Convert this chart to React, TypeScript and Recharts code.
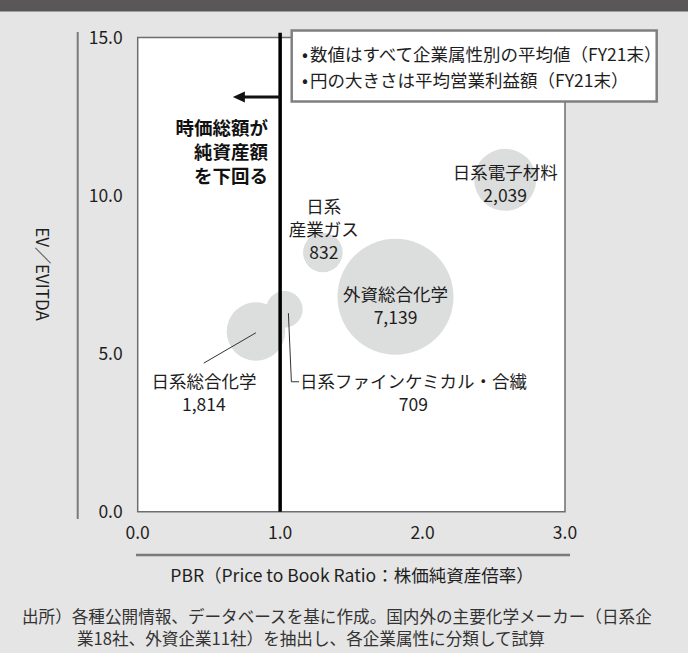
import { ScatterChart, Scatter, XAxis, YAxis, ZAxis, ReferenceLine, ReferenceArea } from 'recharts';

const FONT = '"Noto Sans CJK JP", "Noto Sans", sans-serif';

// 企業属性
const groups = ['日系電子材料', '日系産業ガス', '外資総合化学', '日系総合化学', '日系ファインケミカル・合繊'];
// ラベル表示用（改行あり）
const groupLabels = [['日系電子材料'], ['日系', '産業ガス'], ['外資総合化学'], ['日系総合化学'], ['日系ファインケミカル・合繊']];
const pbr = [2.58, 1.3, 1.81, 0.83, 1.03];
const evEbitda = [10.5, 8.2, 6.8, 5.7, 6.4];
const operatingProfit = [2039, 832, 7139, 1814, 709];

const xTicks = [0, 1, 2, 3];
const yTicks = [0, 5, 10, 15];

const data = groups.map((name, i) => ({
  name,
  lines: groupLabels[i],
  pbr: pbr[i],
  ev: evEbitda[i],
  profit: operatingProfit[i],
}));

// label placement relative to bubble centre (px)
const labelPos: Record<string, { dx: number; dy: number; lh: number }> = {
  日系電子材料: { dx: 0, dy: -8, lh: 23 },
  日系産業ガス: { dx: 1, dy: -46.5, lh: 23 },
  外資総合化学: { dx: 0, dy: -3.5, lh: 23 },
  日系総合化学: { dx: -52, dy: 49, lh: 23 },
  '日系ファインケミカル・合繊': { dx: 129, dy: 71, lh: 23 },
};

const Bubble = (props: any) => {
  const { cx, cy, width, payload } = props;
  const pos = labelPos[payload.name];
  const lines = [...payload.lines, payload.profit.toLocaleString('en-US')];
  return (
    <g>
      <circle cx={cx} cy={cy} r={width / 2} fill="#dcdddd" />
      {lines.map((t: string, i: number) => (
        <text
          key={i}
          x={cx + pos.dx}
          y={cy + pos.dy + i * pos.lh}
          textAnchor="middle"
          dominantBaseline="central"
          fontSize={17.5}
          fill="#1e1e1e"
          fontFamily={FONT}
        >
          {t}
        </text>
      ))}
    </g>
  );
};

const Arrow = (props: any) => {
  const { x1, y1, x2 } = props;
  const tip = Math.min(x1, x2);
  const tail = Math.max(x1, x2);
  return (
    <g>
      <line x1={tail} y1={y1} x2={tip + 10} y2={y1} stroke="#111" strokeWidth={3} />
      <polygon points={`${tip},${y1} ${tip + 12},${y1 - 5.5} ${tip + 12},${y1 + 5.5}`} fill="#111" />
    </g>
  );
};

export default function App() {
  return (
    <div style={{ position: 'absolute', left: 0, top: 0, width: 688, height: 653, background: '#e5e5e5', fontFamily: FONT }}>
      <ScatterChart width={688} height={653} margin={{ top: 37.5, right: 123, bottom: 111.3, left: 77.7 }}>
        <ReferenceArea x1={0} x2={3} y1={0} y2={15} fill="#fff" fillOpacity={1} stroke="#6e6e6e" strokeWidth={1.5} zIndex={-50} />
        <XAxis
          type="number"
          dataKey="pbr"
          domain={[0, 3]}
          ticks={xTicks}
          tickFormatter={(v: number) => v.toFixed(1)}
          axisLine={false}
          tickLine={false}
          tickSize={0}
          tickMargin={15}
          height={30}
          tick={{ fontSize: 17.5, fill: '#1e1e1e', fontFamily: FONT }}
        />
        <YAxis
          type="number"
          dataKey="ev"
          domain={[0, 15]}
          ticks={yTicks}
          tickFormatter={(v: number) => v.toFixed(1)}
          axisLine={false}
          tickLine={false}
          tickSize={0}
          tickMargin={15}
          width={60}
          tick={{ fontSize: 17.5, fill: '#1e1e1e', fontFamily: FONT }}
        />
        <ZAxis type="number" dataKey="profit" domain={[0, 10000]} range={[0, 14800]} />
        <Scatter data={data} shape={<Bubble />} isAnimationActive={false} />
        <ReferenceLine segment={[{ x: 0.464, y: 4.7 }, { x: 0.83, y: 5.66 }]} stroke="#333" strokeWidth={1} zIndex={1000} />
        <ReferenceLine segment={[{ x: 1.058, y: 6.28 }, { x: 1.079, y: 4.11 }]} stroke="#333" strokeWidth={1} zIndex={1000} />
        <ReferenceLine segment={[{ x: 1.079, y: 4.11 }, { x: 1.133, y: 4.11 }]} stroke="#333" strokeWidth={1} zIndex={1000} />
        <ReferenceLine segment={[{ x: 1, y: 0 }, { x: 1, y: 15.15 }]} stroke="#000" strokeWidth={3.5} ifOverflow="visible" zIndex={1000} />
        <ReferenceLine segment={[{ x: 1, y: 13.12 }, { x: 0.668, y: 13.12 }]} shape={<Arrow />} zIndex={1000} />
      </ScatterChart>

      <svg width={688} height={653} style={{ position: 'absolute', left: 0, top: 0, pointerEvents: 'none' }} fontFamily={FONT}>
        <rect x={0} y={0} width={688} height={11.5} fill="#595757" />
        {/* legend note */}
        <rect x={291.7} y={30.5} width={365} height={71} fill="#fff" stroke="#7f7f7f" strokeWidth={2.5} />
        <g fontSize={17.5} fill="#1e1e1e">
          <text x={302} y={53} dominantBaseline="central">•</text>
          <text x={310} y={53} dominantBaseline="central">数値はすべて企業属性別の平均値（FY21末）</text>
          <text x={302} y={79} dominantBaseline="central">•</text>
          <text x={310} y={79} dominantBaseline="central">円の大きさは平均営業利益額（FY21末）</text>
        </g>
        {/* annotation */}
        <g fontSize={18.5} fontWeight="bold" fill="#111" textAnchor="end">
          <text x={268} y={127} dominantBaseline="central">時価総額が</text>
          <text x={268} y={151} dominantBaseline="central">純資産額</text>
          <text x={268} y={175} dominantBaseline="central">を下回る</text>
        </g>
        {/* axis titles */}
        <line x1={77.7} y1={32} x2={77.7} y2={519} stroke="#7a7a7a" strokeWidth={2} />
        <text x={43} y={274} textAnchor="middle" dominantBaseline="central" fontSize={17} fill="#1e1e1e" transform="rotate(90 43 274)">EV／EVITDA</text>
        <line x1={136} y1={555} x2={570} y2={555} stroke="#7a7a7a" strokeWidth={2.5} />
        <text x={352} y={574} textAnchor="middle" dominantBaseline="central" fontSize={17.5} fill="#1e1e1e">PBR（Price to Book Ratio：株価純資産倍率）</text>
        {/* source */}
        <text x={22} y={615.5} dominantBaseline="central" fontSize={16.6} fill="#333">出所）各種公開情報、データベースを基に作成。国内外の主要化学メーカー（日系企</text>
        <text x={77} y={637.5} dominantBaseline="central" fontSize={16.6} fill="#333">業18社、外資企業11社）を抽出し、各企業属性に分類して試算</text>
      </svg>
    </div>
  );
}
